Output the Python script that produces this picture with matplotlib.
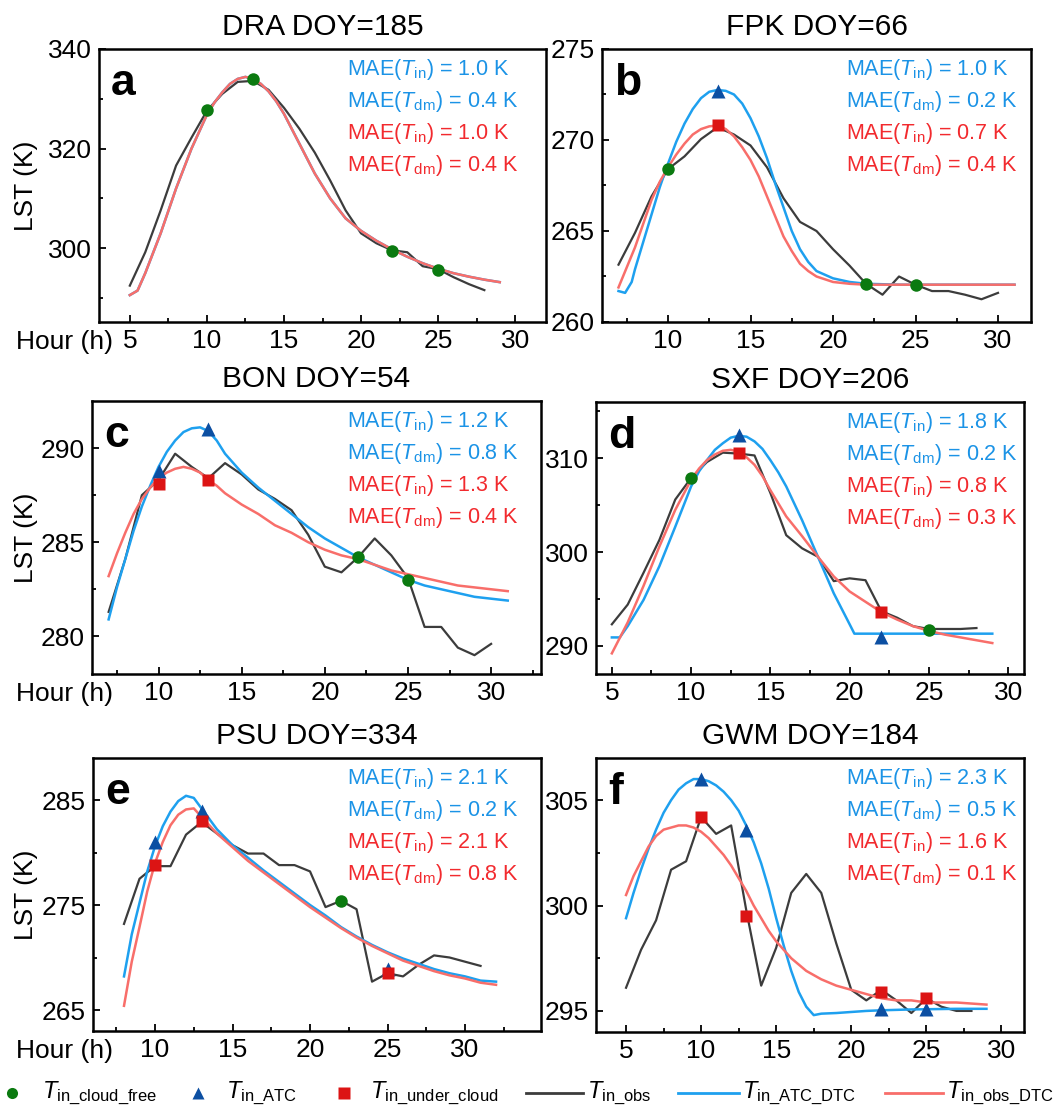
import matplotlib
matplotlib.use("Agg")
import matplotlib.pyplot as plt
from matplotlib.ticker import MultipleLocator
from matplotlib.lines import Line2D

plt.rcParams['font.family'] = ['Liberation Sans', 'DejaVu Sans']
plt.rcParams['mathtext.fontset'] = 'custom'
plt.rcParams['mathtext.rm'] = 'Liberation Sans'
plt.rcParams['mathtext.it'] = 'Liberation Sans:italic'
plt.rcParams['mathtext.bf'] = 'Liberation Sans:bold'

# ---------------- data ----------------
titles = ["DRA DOY=185", "FPK DOY=66", "BON DOY=54", "SXF DOY=206", "PSU DOY=334", "GWM DOY=184"]
letters = ["a", "b", "c", "d", "e", "f"]

mae_atc_in = ["1.0", "1.0", "1.2", "1.8", "2.1", "2.3"]
mae_atc_dm = ["0.4", "0.2", "0.8", "0.2", "0.2", "0.5"]
mae_obs_in = ["1.0", "0.7", "1.3", "0.8", "2.1", "1.6"]
mae_obs_dm = ["0.4", "0.4", "0.4", "0.3", "0.8", "0.1"]

# a: DRA
a_obs_x = list(range(5, 29))
a_obs_y = [292.5, 299.2, 307.6, 316.6, 322.2, 327.6, 331.0, 333.4, 333.6, 331.8, 328.2, 324.0,
           319.2, 313.6, 307.6, 303.0, 301.0, 299.6, 299.2, 296.4, 295.8, 294.2, 292.8, 291.6]
a_atc_x = [5, 5.5, 6, 6.5, 7, 8, 9, 10, 10.5, 11, 11.5, 12, 12.5, 13, 13.5, 14, 14.5, 15, 16, 17, 18, 19,
           20, 21, 22, 23, 24, 25, 26, 27, 28, 29]
a_atc_y = [290.6, 291.5, 295.0, 299.0, 303.0, 312.0, 320.0, 326.8, 329.3, 331.3, 333.0, 334.0, 334.4,
           334.0, 333.0, 331.5, 329.5, 327.0, 321.0, 315.0, 310.0, 306.0, 303.5, 301.5, 299.8, 298.3,
           297.0, 295.9, 295.0, 294.3, 293.7, 293.2]
a_obsfit_x = a_atc_x
a_obsfit_y = a_atc_y
a_free_x, a_free_y = [10, 13, 22, 25], [327.8, 334.0, 299.4, 295.6]
a_tri_x, a_tri_y = [], []
a_sq_x, a_sq_y = [], []

# b: FPK
b_obs_x = list(range(7, 31))
b_obs_y = [263.15, 264.9, 266.9, 268.4, 269.1, 270.05, 270.7, 270.3, 269.7, 268.5, 266.8, 265.5,
           265.0, 264.0, 263.1, 262.1, 261.5, 262.5, 262.05, 261.7, 261.7, 261.5, 261.25, 261.6]
b_atc_x = [7, 7.4, 7.8, 8, 8.5, 9, 9.5, 10, 10.5, 11, 11.5, 12, 12.5, 13, 13.5, 14, 14.5, 15, 15.5, 16,
           16.5, 17, 17.5, 18, 18.5, 19, 20, 21, 22, 24, 26, 28, 31]
b_atc_y = [261.7, 261.6, 262.2, 262.9, 264.4, 265.9, 267.4, 268.7, 269.9, 270.9, 271.7, 272.3, 272.65,
           272.75, 272.7, 272.5, 272.0, 271.2, 270.2, 269.0, 267.6, 266.3, 265.0, 264.0, 263.3, 262.8,
           262.4, 262.2, 262.1, 262.05, 262.05, 262.05, 262.05]
b_obsfit_x = [7, 7.5, 8, 8.5, 9, 9.5, 10, 10.5, 11, 11.5, 12, 12.5, 13, 13.5, 14, 14.5, 15, 15.5, 16,
              16.5, 17, 17.5, 18, 18.5, 19, 20, 21, 22, 24, 26, 28, 31]
b_obsfit_y = [261.9, 263.0, 264.1, 265.4, 266.7, 267.7, 268.5, 269.2, 269.8, 270.3, 270.6, 270.75, 270.8,
              270.6, 270.2, 269.6, 268.9, 268.0, 266.9, 265.8, 264.7, 263.9, 263.2, 262.8, 262.5, 262.2,
              262.1, 262.05, 262.05, 262.05, 262.05, 262.05]
b_free_x, b_free_y = [10, 22, 25], [268.4, 262.1, 262.05]
b_tri_x, b_tri_y = [13], [272.7]
b_sq_x, b_sq_y = [13], [270.8]

# c: BON
c_obs_x = list(range(7, 31))
c_obs_y = [281.3, 284.1, 287.5, 288.3, 289.7, 289.0, 288.4, 289.2, 288.6, 287.8, 287.3, 286.7,
           285.4, 283.7, 283.4, 284.2, 285.2, 284.3, 283.1, 280.5, 280.5, 279.4, 279.0, 279.6]
c_atc_x = [7, 7.5, 8, 8.5, 9, 9.5, 10, 10.5, 11, 11.5, 12, 12.5, 13, 13.5, 14, 14.5, 15, 16, 17, 18, 19,
           20, 21, 22, 23, 24, 25, 26, 27, 28, 29, 30, 31]
c_atc_y = [280.9, 282.6, 284.1, 285.6, 286.9, 288.0, 289.0, 289.8, 290.4, 290.85, 291.05, 291.1, 290.9,
           290.4, 289.7, 289.2, 288.7, 287.9, 287.2, 286.5, 285.8, 285.2, 284.7, 284.2, 283.8, 283.4,
           283.0, 282.7, 282.5, 282.3, 282.1, 282.0, 281.9]
c_obsfit_x = c_atc_x
c_obsfit_y = [283.2, 284.4, 285.5, 286.5, 287.3, 287.9, 288.4, 288.7, 288.9, 289.0, 288.9, 288.7, 288.3,
              288.0, 287.6, 287.3, 287.0, 286.5, 285.9, 285.5, 285.0, 284.6, 284.3, 284.1, 283.8, 283.5,
              283.3, 283.1, 282.9, 282.7, 282.6, 282.5, 282.4]
c_free_x, c_free_y = [22, 25], [284.2, 283.0]
c_tri_x, c_tri_y = [10, 13], [288.8, 291.0]
c_sq_x, c_sq_y = [10, 13], [288.1, 288.3]

# d: SXF
d_obs_x = list(range(5, 29))
d_obs_y = [292.3, 294.4, 297.8, 301.3, 305.6, 307.9, 309.6, 310.6, 310.5, 310.3, 306.3, 301.8,
           300.4, 299.5, 296.9, 297.2, 297.0, 293.7, 293.0, 292.1, 291.8, 291.8, 291.8, 291.9]
d_atc_x = [5, 5.5, 6, 7, 8, 9, 10, 10.5, 11, 11.5, 12, 12.5, 13, 13.5, 14, 14.5, 15, 15.5, 16, 17, 18,
           19, 20, 20.3, 21, 23, 25, 27, 29]
d_atc_y = [290.9, 290.9, 292.1, 294.9, 298.5, 302.7, 307.0, 308.6, 309.8, 310.9, 311.6, 312.2, 312.4,
           312.3, 311.8, 311.0, 309.8, 308.5, 307.0, 303.4, 299.5, 295.6, 292.3, 291.3, 291.3, 291.3,
           291.3, 291.3, 291.3]
d_obsfit_x = [5, 6, 7, 8, 9, 10, 10.5, 11, 11.5, 12, 12.5, 13, 13.5, 14, 14.5, 15, 15.5, 16, 17, 18, 19,
              20, 21, 22, 23, 24, 25, 26, 27, 28, 29]
d_obsfit_y = [289.2, 292.5, 296.4, 300.6, 304.5, 307.7, 308.9, 309.8, 310.4, 310.8, 310.9, 310.7, 310.1,
              309.3, 308.1, 306.6, 305.2, 303.8, 301.7, 299.5, 297.4, 295.8, 294.7, 293.6, 292.8, 292.1,
              291.6, 291.2, 290.9, 290.6, 290.3]
d_free_x, d_free_y = [10, 25], [307.9, 291.7]
d_tri_x, d_tri_y = [13, 22], [312.5, 290.9]
d_sq_x, d_sq_y = [13, 22], [310.6, 293.6]

# e: PSU
e_obs_x = list(range(8, 32))
e_obs_y = [273.2, 277.5, 278.7, 278.7, 281.7, 282.9, 281.8, 280.7, 279.9, 279.9, 278.8, 278.8,
           278.2, 274.8, 275.4, 274.6, 267.7, 268.5, 268.2, 269.3, 270.2, 270.0, 269.6, 269.2]
e_atc_x = [8, 8.5, 9, 9.5, 10, 10.5, 11, 11.5, 12, 12.5, 13, 13.5, 14, 15, 16, 17, 18, 19, 20, 21, 22,
           23, 24, 25, 26, 27, 28, 29, 30, 31, 32]
e_atc_y = [268.2, 272.2, 275.2, 278.2, 280.6, 282.5, 283.9, 284.9, 285.4, 285.2, 284.2, 283.2, 282.2,
           280.7, 279.5, 278.3, 277.2, 276.1, 275.0, 274.0, 272.9, 272.0, 271.2, 270.5, 269.9, 269.4,
           268.9, 268.5, 268.2, 267.8, 267.7]
e_obsfit_x = e_atc_x
e_obsfit_y = [265.4, 269.6, 272.9, 276.3, 279.0, 281.0, 282.6, 283.6, 284.1, 284.2, 283.4, 282.6, 281.8,
              280.5, 279.2, 278.1, 277.0, 275.9, 274.8, 273.8, 272.8, 271.9, 271.1, 270.4, 269.7, 269.2,
              268.7, 268.3, 268.0, 267.6, 267.4]
e_free_x, e_free_y = [22], [275.4]
e_tri_x, e_tri_y = [10, 13, 25], [281.0, 284.0, 268.9]
e_sq_x, e_sq_y = [10, 13, 25], [278.8, 283.0, 268.5]

# f: GWM
f_obs_x = list(range(5, 29))
f_obs_y = [296.1, 297.9, 299.3, 301.7, 302.1, 304.2, 303.4, 303.8, 299.8, 296.2, 298.0, 300.6,
           301.5, 300.6, 298.2, 296.0, 295.5, 296.0, 295.5, 294.9, 295.6, 295.2, 295.0, 295.0]
f_atc_x = [5, 5.5, 6, 6.5, 7, 7.5, 8, 8.5, 9, 9.5, 10, 10.5, 11, 11.5, 12, 12.5, 13, 13.5, 14, 14.5, 15,
           15.5, 16, 16.5, 17, 17.5, 18, 19, 20, 21, 22, 23, 24, 25, 26, 27, 28, 29]
f_atc_y = [299.4, 300.6, 301.7, 302.7, 303.6, 304.4, 305.0, 305.5, 305.8, 306.0, 306.0, 305.9, 305.7,
           305.4, 305.0, 304.5, 303.8, 303.0, 302.0, 300.8, 299.4, 298.1, 296.9, 295.9, 295.2, 294.8,
           294.87, 294.9, 294.95, 295.0, 295.03, 295.05, 295.07, 295.08, 295.09, 295.1, 295.1, 295.1]
f_obsfit_x = f_atc_x
f_obsfit_y = [300.5, 301.4, 302.1, 302.8, 303.3, 303.6, 303.7, 303.8, 303.8, 303.7, 303.5, 303.2, 302.8,
              302.4, 301.9, 301.3, 300.7, 300.0, 299.4, 298.8, 298.3, 297.9, 297.5, 297.2, 296.9, 296.7,
              296.5, 296.2, 296.0, 295.8, 295.6, 295.5, 295.5, 295.4, 295.4, 295.4, 295.35, 295.3]
f_free_x, f_free_y = [], []
f_tri_x, f_tri_y = [10, 13, 22, 25], [306.0, 303.6, 295.1, 295.1]
f_sq_x, f_sq_y = [10, 13, 22, 25], [304.2, 299.5, 295.9, 295.6]

panels = [
    (a_obs_x, a_obs_y, a_atc_x, a_atc_y, a_obsfit_x, a_obsfit_y, a_free_x, a_free_y, a_tri_x, a_tri_y, a_sq_x, a_sq_y),
    (b_obs_x, b_obs_y, b_atc_x, b_atc_y, b_obsfit_x, b_obsfit_y, b_free_x, b_free_y, b_tri_x, b_tri_y, b_sq_x, b_sq_y),
    (c_obs_x, c_obs_y, c_atc_x, c_atc_y, c_obsfit_x, c_obsfit_y, c_free_x, c_free_y, c_tri_x, c_tri_y, c_sq_x, c_sq_y),
    (d_obs_x, d_obs_y, d_atc_x, d_atc_y, d_obsfit_x, d_obsfit_y, d_free_x, d_free_y, d_tri_x, d_tri_y, d_sq_x, d_sq_y),
    (e_obs_x, e_obs_y, e_atc_x, e_atc_y, e_obsfit_x, e_obsfit_y, e_free_x, e_free_y, e_tri_x, e_tri_y, e_sq_x, e_sq_y),
    (f_obs_x, f_obs_y, f_atc_x, f_atc_y, f_obsfit_x, f_obsfit_y, f_free_x, f_free_y, f_tri_x, f_tri_y, f_sq_x, f_sq_y),
]

xlims = [(3, 32), (6, 32), (6, 33), (4, 31), (6, 34.9), (3, 31.5)]
ylims = [(285.2, 340), (260, 275), (278, 292.5), (287, 316), (263, 289), (294, 307)]
yticks_major = [[300, 320, 340], [260, 265, 270, 275], [280, 285, 290], [290, 300, 310],
                [265, 275, 285], [295, 300, 305]]
yticks_minor = [[290, 310, 330], [262.5, 267.5, 272.5], [282.5, 287.5], [295, 305, 315],
                [270, 280], [297.5, 302.5]]

legend_labels = [r'$T_{\mathrm{in\_cloud\_free}}$', r'$T_{\mathrm{in\_ATC}}$', r'$T_{\mathrm{in\_under\_cloud}}$',
                 r'$T_{\mathrm{in\_obs}}$', r'$T_{\mathrm{in\_ATC\_DTC}}$', r'$T_{\mathrm{in\_obs\_DTC}}$']

# ---------------- style ----------------
C_OBS = '#3c3c3c'
C_ATC = '#1ea0ef'
C_OBSFIT = '#f86e6a'
C_GREEN = '#0b7a10'
C_TRI = '#0c4fa2'
C_SQ = '#dc1414'
C_TXT_B = '#1b93e6'
C_TXT_R = '#f22a2e'

W, H = 1064, 1114
fig = plt.figure(figsize=(W / 100, H / 100), dpi=100)

boxes = [(99, 49, 546, 322), (602, 49, 1031, 322),
         (92, 401, 541, 674), (596, 402, 1024, 674),
         (93, 758, 541, 1031), (596, 758, 1024, 1032)]
mae_x = [0.555, 0.569, 0.568, 0.584, 0.567, 0.584]

TICK_FS = 19
for i, (box, data) in enumerate(zip(boxes, panels)):
    x0, y0, x1, y1 = box
    ax = fig.add_axes([x0 / W, 1 - y1 / H, (x1 - x0) / W, (y1 - y0) / H])
    (ox, oy, ax_, ay_, fx_, fy_, frx, fry, tx, ty, sx, sy) = data
    ax.plot(ox, oy, color=C_OBS, lw=1.6, zorder=2, solid_joinstyle='round')
    ax.plot(ax_, ay_, color=C_ATC, lw=1.8, zorder=3, solid_joinstyle='round')
    ax.plot(fx_, fy_, color=C_OBSFIT, lw=1.8, zorder=4, solid_joinstyle='round')
    if frx:
        ax.plot(frx, fry, 'o', color=C_GREEN, ms=9, mec='none', zorder=5)
    if tx:
        ax.plot(tx, ty, '^', color=C_TRI, ms=10, mec='none', zorder=6)
    if sx:
        ax.plot(sx, sy, 's', color=C_SQ, ms=9, mec='none', zorder=7)

    ax.set_xlim(*xlims[i])
    ax.set_ylim(*ylims[i])
    ax.xaxis.set_major_locator(MultipleLocator(5))
    ax.xaxis.set_minor_locator(MultipleLocator(2.5))
    ax.set_yticks(yticks_major[i])
    ax.set_yticks(yticks_minor[i], minor=True)
    ax.tick_params(which='both', direction='in', top=False, right=False, labelsize=TICK_FS, width=1.3)
    ax.tick_params(which='major', length=5, pad=5)
    ax.tick_params(which='minor', length=3)
    for sp in ax.spines.values():
        sp.set_linewidth(1.8)

    ax.set_title(titles[i], fontsize=21.5, pad=10)
    ax.annotate(letters[i], xy=(0, 1), xycoords='axes fraction', xytext=(8.5, -33),
                textcoords='offset points', fontsize=32, fontweight='bold', va='baseline', ha='left')
    lines = [(r'MAE($T_{\mathrm{in}}$) = ' + mae_atc_in[i] + ' K', C_TXT_B),
             (r'MAE($T_{\mathrm{dm}}$) = ' + mae_atc_dm[i] + ' K', C_TXT_B),
             (r'MAE($T_{\mathrm{in}}$) = ' + mae_obs_in[i] + ' K', C_TXT_R),
             (r'MAE($T_{\mathrm{dm}}$) = ' + mae_obs_dm[i] + ' K', C_TXT_R)]
    for k, (s, c) in enumerate(lines):
        ax.annotate(s, xy=(mae_x[i], 1), xycoords='axes fraction', xytext=(0, -18.7 - 23.0 * k),
                    textcoords='offset points', fontsize=15.5, color=c, va='baseline', ha='left')

    if i % 2 == 0:
        yc = (y0 + y1) / 2
        fig.text(26 / W, 1 - yc / H, 'LST (K)', rotation=90, fontsize=TICK_FS, ha='center', va='center')
        fig.text(113 / W, 1 - (y1 + 20) / H, 'Hour (h)', fontsize=TICK_FS, ha='right', va='center')

# ---------------- legend (manual row) ----------------
LY = 1 - 1093 / H
marker_items = [(12, 'o', C_GREEN, 8), (198, '^', C_TRI, 9), (344, 's', C_SQ, 8)]
for (xm, mk, col, ms) in marker_items:
    fig.add_artist(Line2D([xm / W], [LY], transform=fig.transFigure, ls='none', marker=mk,
                          color=col, ms=ms, mec='none'))
line_items = [(526, 583, C_OBS), (678, 739, C_ATC), (885, 943, C_OBSFIT)]
for (xa, xb, col) in line_items:
    fig.add_artist(Line2D([xa / W, xb / W], [LY, LY], transform=fig.transFigure, color=col, lw=2.0))
text_x = [42, 226, 370, 587, 742, 946]
for xt, lab in zip(text_x, legend_labels):
    fig.text(xt / W, LY, lab, fontsize=17, ha='left', va='center')

fig.savefig('out.png', dpi=100)
